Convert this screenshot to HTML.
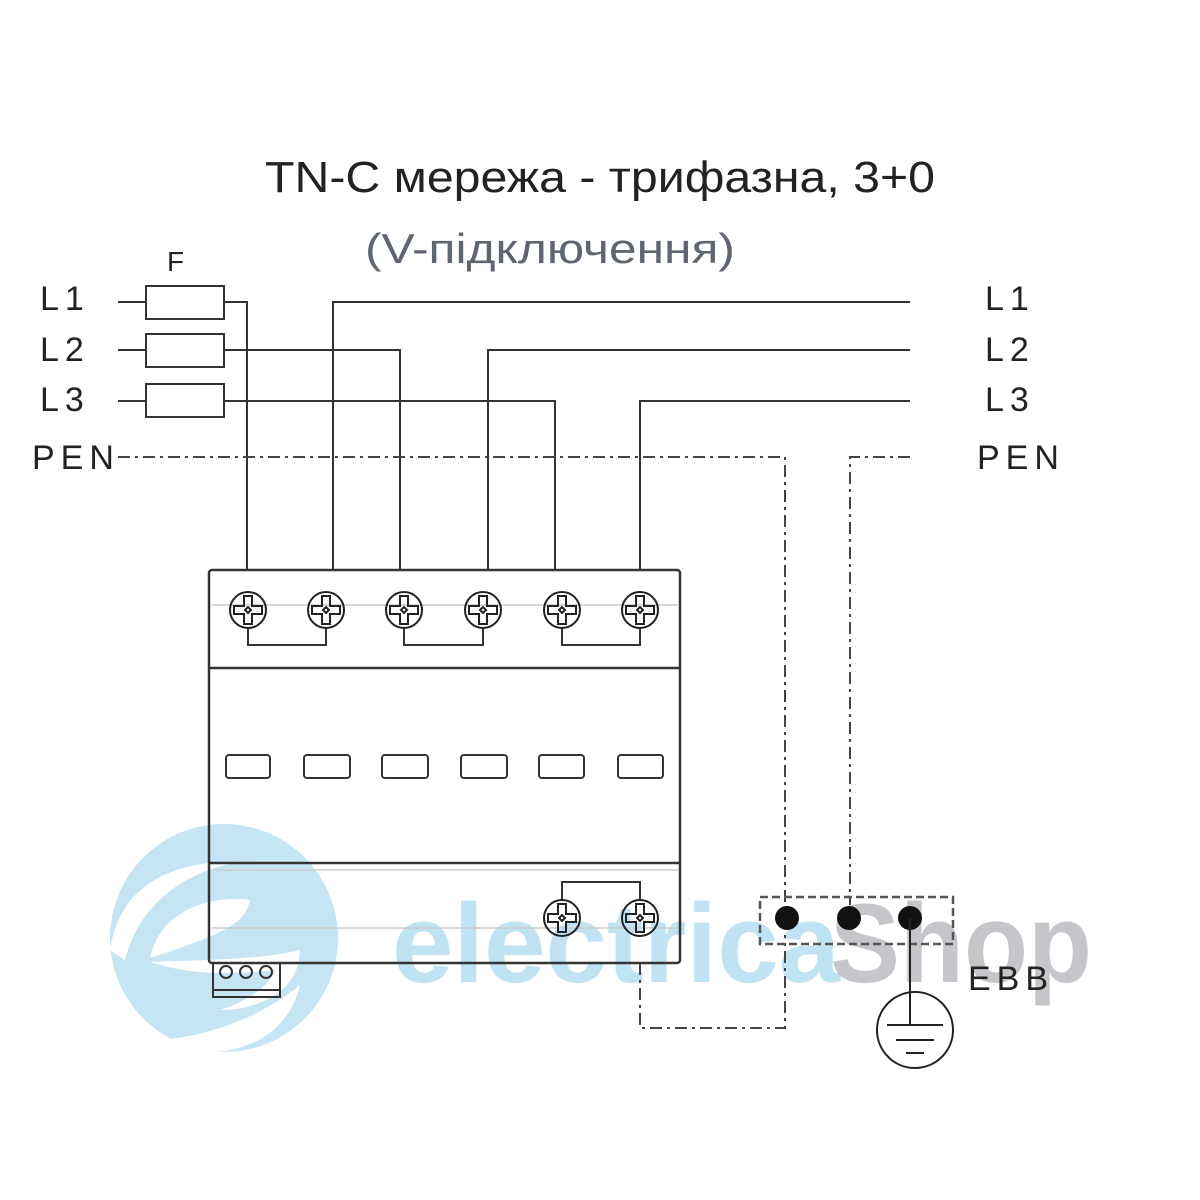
<!DOCTYPE html>
<html><head><meta charset="utf-8"><style>
html,body{margin:0;padding:0;background:#fff;}
svg{display:block}
</style></head><body>
<svg width="1200" height="1200" viewBox="0 0 1200 1200" xmlns="http://www.w3.org/2000/svg" font-family="Liberation Sans, DejaVu Sans, sans-serif">
<defs>
<g id="s"><circle cx="0" cy="0" r="18"/><path d="M-4 -14H4V-4H14V4H4V14H-4V4H-14V-4H-4Z"/><path d="M-3 0L0 -3L3 0L0 3Z"/></g>
</defs>
<rect width="1200" height="1200" fill="#fff"/>
<!-- watermark logo -->
<g opacity="0.9">
<circle cx="224" cy="938" r="114" fill="#bfe3f3"/>
<path d="M110 950 C120 880 180 860 240 862 C190 870 140 900 125 960 Z" fill="#fff"/>
<path d="M150 958 C160 910 210 895 250 900 C245 925 220 935 150 958 Z" fill="#fff"/>
<path d="M150 962 C200 960 260 960 300 950 C300 990 260 1010 220 1010 C250 1000 270 985 275 970 C230 975 190 975 150 962 Z" fill="#fff"/>
<path d="M160 1040 C220 1035 270 1010 300 985 C290 1030 250 1052 210 1052 C190 1050 175 1046 160 1040 Z" fill="#fff"/>
</g>
<text x="392" y="982" font-size="112" font-weight="bold" fill="#bfe3f3" textLength="448" lengthAdjust="spacingAndGlyphs">electrica</text>
<text x="830" y="982" font-size="112" font-weight="bold" fill="#c4c6c9" textLength="262" lengthAdjust="spacingAndGlyphs">Shop</text>

<!-- titles -->
<text x="265" y="192" font-size="44" fill="#222" textLength="670" lengthAdjust="spacingAndGlyphs">TN-C мережа - трифазна, 3+0</text>
<text x="365" y="263" font-size="42" fill="#5f6670" textLength="370" lengthAdjust="spacingAndGlyphs">(V-підключення)</text>

<g font-size="34" fill="#222" letter-spacing="6">
<text x="40" y="310">L1</text><text x="40" y="361">L2</text><text x="40" y="411">L3</text><text x="32" y="469">PEN</text>
<text x="985" y="310">L1</text><text x="985" y="361">L2</text><text x="985" y="411">L3</text><text x="977" y="469">PEN</text>
<text x="968" y="990">EBB</text>
</g>
<text x="167" y="271" font-size="28" fill="#222">F</text>

<g stroke="#333" stroke-width="2" fill="none">
<rect x="146" y="286" width="78" height="33"/>
<rect x="146" y="334" width="78" height="33"/>
<rect x="146" y="384" width="78" height="33"/>
<path d="M118 302H146M224 302H247V570"/>
<path d="M118 350H146M224 350H400V570"/>
<path d="M118 401H146M224 401H555V570"/>
<path d="M333 570V302H910"/>
<path d="M488 570V350H910"/>
<path d="M640 570V401H910"/>
</g>
<g stroke="#444" stroke-width="2" fill="none" stroke-dasharray="12,5,3,5">
<path d="M118 457H785V905"/>
<path d="M910 457H850V905"/>
<path d="M640 963V1028H785V935"/>
</g>
<rect x="760" y="897" width="193" height="47" fill="none" stroke="#555" stroke-width="2.5" stroke-dasharray="8,4"/>
<circle cx="787" cy="918" r="12" fill="#111"/>
<circle cx="849" cy="918" r="12" fill="#111"/>
<circle cx="910" cy="918" r="12" fill="#111"/>
<g stroke="#222" stroke-width="2" fill="none">
<path d="M910 918V1025"/>
<circle cx="915" cy="1030" r="38"/>
<path d="M887 1025H943M896 1040H934M906 1053H924"/>
</g>

<!-- device -->
<g stroke="#333" stroke-width="2.5" fill="none">
<rect x="209" y="570" width="471" height="393" rx="3"/>
<path d="M209 668H680M209 863H680"/>
</g>
<g stroke="#ccc" stroke-width="1.5"><path d="M212 605H678M212 870H678M212 928H678"/></g>
<g stroke="#333" stroke-width="2" fill="none">
<path d="M248 628V645H326V628M404 628V645H483V628M562 628V645H640V628"/>
<path d="M562 900V882H640V900"/>
<rect x="226" y="755" width="44" height="23" rx="3"/>
<rect x="304" y="755" width="46" height="23" rx="3"/>
<rect x="382" y="755" width="46" height="23" rx="3"/>
<rect x="461" y="755" width="46" height="23" rx="3"/>
<rect x="539" y="755" width="45" height="23" rx="3"/>
<rect x="618" y="755" width="45" height="23" rx="3"/>
<rect x="213" y="963" width="67" height="34"/>
<path d="M213 990H280"/>
</g>
<g stroke="#222" stroke-width="2" fill="none">
<use href="#s" x="248" y="610"/><use href="#s" x="326" y="610"/><use href="#s" x="404" y="610"/>
<use href="#s" x="483" y="610"/><use href="#s" x="562" y="610"/><use href="#s" x="640" y="610"/>
<use href="#s" x="562" y="918"/><use href="#s" x="640" y="918"/>
</g>
<g stroke="#333" stroke-width="2" fill="none">
<circle cx="226" cy="972" r="6"/><circle cx="246" cy="972" r="6"/><circle cx="266" cy="972" r="6"/>
</g>
</svg>
</body></html>
